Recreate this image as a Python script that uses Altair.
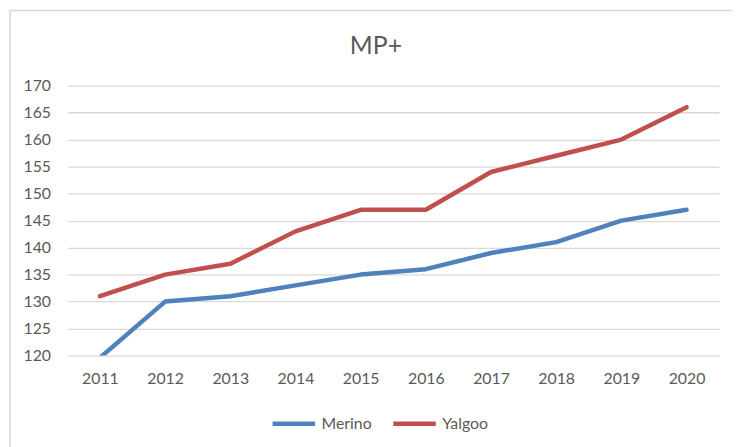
import altair as alt
import pandas as pd

years = ["2011", "2012", "2013", "2014", "2015", "2016", "2017", "2018", "2019", "2020"]
merino = [119.6, 130, 131, 133, 135, 136, 139, 141, 145, 147]
yalgoo = [131, 135, 137, 143, 147, 147, 154, 157, 160, 166]
series_names = ["Merino", "Yalgoo"]
series_colors = ["#4F81BD", "#C0504D"]
y_ticks = [120, 125, 130, 135, 140, 145, 150, 155, 160, 165, 170]
chart_title = "MP+"

rows = []
for name, vals in zip(series_names, [merino, yalgoo]):
    for yr, v in zip(years, vals):
        rows.append({"Year": yr, "Value": v, "Series": name})
df = pd.DataFrame(rows)

FONT = "Lato"
GREY = "#595959"

lines = alt.Chart(df).mark_line(
    strokeWidth=4.5, strokeCap="round", strokeJoin="round", clip=True
).encode(
    x=alt.X("Year:O", sort=years,
            scale=alt.Scale(type="point", padding=0.5),
            axis=alt.Axis(title=None, labelAngle=0, domain=False, ticks=False,
                          tickSize=0, labelPadding=15, labelFontSize=16,
                          labelColor=GREY, labelFont=FONT, grid=False)),
    y=alt.Y("Value:Q", scale=alt.Scale(domain=[120, 170], nice=False, zero=False),
            axis=alt.Axis(title=None, values=y_ticks, domain=False, ticks=False,
                          tickSize=0, labelPadding=17, labelFontSize=16,
                          labelColor=GREY, labelFont=FONT, grid=True,
                          gridColor="#D9D9D9", gridWidth=1.3)),
    color=alt.Color("Series:N", scale=alt.Scale(domain=series_names, range=series_colors),
                    legend=alt.Legend(title=None, orient="none", direction="horizontal",
                                      legendX=205, legendY=318,
                                      symbolType="stroke", symbolSize=1849,
                                      symbolStrokeWidth=4.5, labelFontSize=16,
                                      labelColor=GREY, labelFont=FONT,
                                      labelOffset=4, columnPadding=12)),
)

title = alt.Chart(alt.Data(values=[{"t": chart_title}])).mark_text(
    font=FONT, fontSize=25, color=GREY, baseline="alphabetic", align="center"
).encode(
    text="t:N", x=alt.value(312), y=alt.value(-32)
)

border = alt.Chart(alt.Data(values=[{"a": 1}])).mark_rect(
    fillOpacity=0, stroke="#D9D9D9", strokeWidth=1.5
).encode(
    x=alt.value(-58), x2=alt.value(760), y=alt.value(-76), y2=alt.value(420)
)

chart = alt.layer(border, title, lines).properties(
    width=659, height=273,
    padding={"left": 60, "top": 76, "right": 13, "bottom": 90},
    autosize=alt.AutoSizeParams(type="none"),
).configure_view(stroke=None)

chart.save("out.html", embed_options={"renderer": "svg", "actions": False})
